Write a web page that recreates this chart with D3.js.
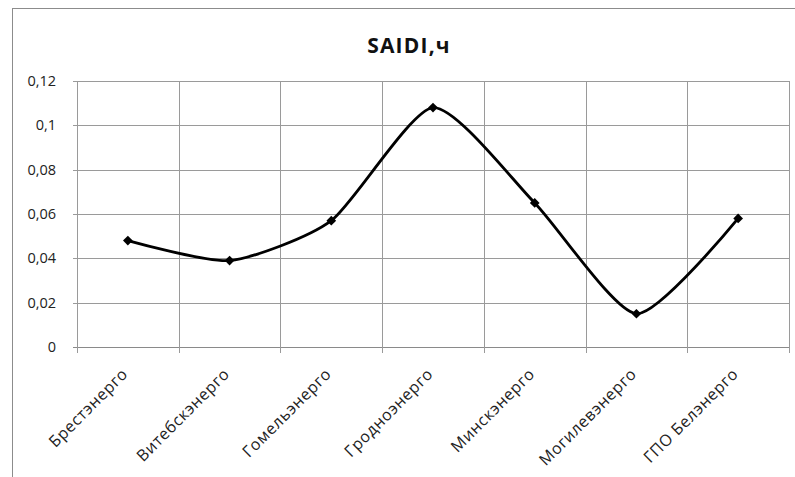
<!DOCTYPE html>
<html>
<head>
<meta charset="utf-8">
<script src="https://cdn.jsdelivr.net/npm/d3@7"></script>
<style>
  body { margin: 0; background: #fff; }
  svg { display: block; font-family: "Open Sans", "DejaVu Sans", sans-serif; }
</style>
</head>
<body>
<svg id="chart" width="795" height="477"></svg>
<script>
const categories = ["Брестэнерго", "Витебскэнерго", "Гомельэнерго", "Гродноэнерго",
  "Минскэнерго", "Могилевэнерго", "ГПО Белэнерго"];
const saidi = [0.048, 0.039, 0.057, 0.108, 0.065, 0.015, 0.058];
const yTicks = [0, 0.02, 0.04, 0.06, 0.08, 0.1, 0.12];
const chartTitle = "SAIDI,ч";

const svg = d3.select("#chart");
const margin = { left: 77, right: 6, top: 81, bottom: 130 };
const width = +svg.attr("width"), height = +svg.attr("height");

// chart frame
svg.append("rect")
  .attr("x", 12.5).attr("y", 8.5)
  .attr("width", 800).attr("height", 500)
  .attr("fill", "#fff").attr("stroke", "#8c8c8c").attr("stroke-width", 1);

const x = d3.scaleBand()
  .domain(categories)
  .range([margin.left, width - margin.right]);

const y = d3.scaleLinear()
  .domain([0, 0.12])
  .range([height - margin.bottom, margin.top]);

const fmt = d => d3.format("~g")(d).replace(".", ",");

// horizontal grid
svg.append("g")
  .selectAll("line")
  .data(yTicks)
  .join("line")
  .attr("x1", margin.left - 4)
  .attr("x2", width - margin.right)
  .attr("y1", d => Math.round(y(d)) + 0.5)
  .attr("y2", d => Math.round(y(d)) + 0.5)
  .attr("stroke", d => d === 0 ? "#8a8a8a" : "#9a9a9a")
  .attr("stroke-width", 1);

// vertical grid at category boundaries
const bounds = categories.map(c => x(c)).concat([x.range()[1]]);
svg.append("g")
  .selectAll("line")
  .data(bounds)
  .join("line")
  .attr("x1", d => Math.round(d) + 0.5)
  .attr("x2", d => Math.round(d) + 0.5)
  .attr("y1", y(0.12))
  .attr("y2", y(0) + 6)
  .attr("stroke", "#9a9a9a")
  .attr("stroke-width", 1);

// y labels
svg.append("g")
  .selectAll("text")
  .data(yTicks)
  .join("text")
  .attr("x", 56)
  .attr("y", d => y(d))
  .attr("dy", "0.35em")
  .attr("text-anchor", "end")
  .attr("font-size", 14.5)
  .attr("fill", "#222")
  .text(fmt);

// x labels rotated
svg.append("g")
  .selectAll("text")
  .data(categories)
  .join("text")
  .attr("transform", d => `translate(${x(d) + x.bandwidth() / 2 + 1},${y(0) + 28}) rotate(-45)`)
  .attr("text-anchor", "end")
  .attr("font-size", 16)
  .attr("letter-spacing", 0.6)
  .attr("fill", "#222")
  .text(d => d);

// smooth line
const line = d3.line()
  .x((d, i) => x(categories[i]) + x.bandwidth() / 2)
  .y(d => y(d))
  .curve(d3.curveCardinal.tension(0.35));

svg.append("path")
  .datum(saidi)
  .attr("d", line)
  .attr("fill", "none")
  .attr("stroke", "#000")
  .attr("stroke-width", 2.8);

// diamond markers
svg.append("g")
  .selectAll("path")
  .data(saidi)
  .join("path")
  .attr("transform", (d, i) => `translate(${x(categories[i]) + x.bandwidth() / 2},${y(d)})`)
  .attr("d", d3.symbol(d3.symbolDiamond2, 60))
  .attr("fill", "#000");

// title
svg.append("text")
  .attr("x", 409)
  .attr("y", 53)
  .attr("text-anchor", "middle")
  .attr("font-size", 21)
  .attr("font-weight", "bold")
  .attr("letter-spacing", 1.2)
  .attr("fill", "#111")
  .text(chartTitle);
</script>
</body>
</html>
